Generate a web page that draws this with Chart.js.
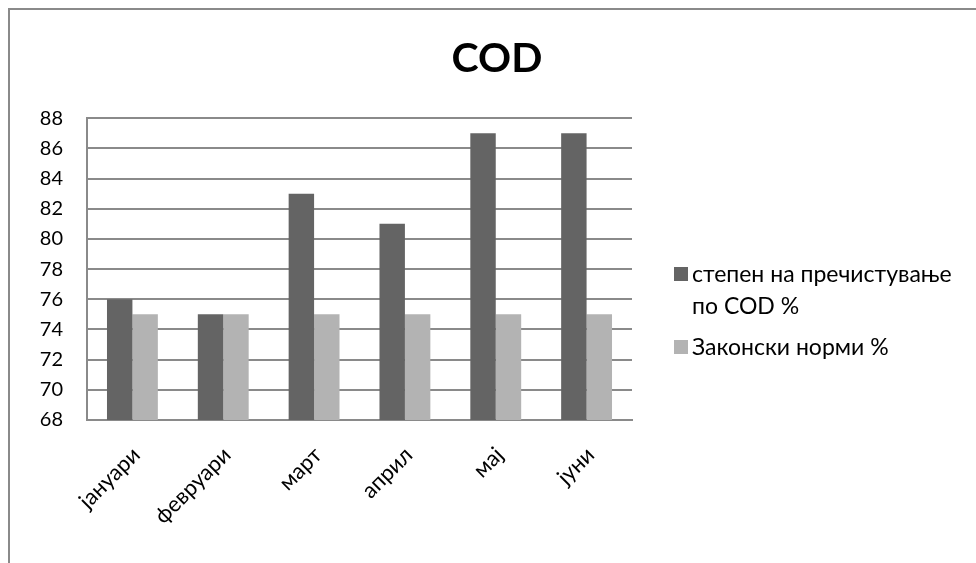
<!DOCTYPE html>
<html>
<head>
<meta charset="utf-8">
<script src="https://cdn.jsdelivr.net/npm/chart.js@4.4.0/dist/chart.umd.min.js"></script>
<style>
  body { margin: 0; background: #fff; }
  #wrap { position: relative; width: 976px; height: 563px; overflow: hidden; }
  #frame { position: absolute; left: 8px; top: 8px; width: 1000px; height: 600px;
           border-left: 2px solid #8a8a8a; border-top: 2px solid #8a8a8a; }
  #myChart { position: absolute; left: 0; top: 0; }
  #legend { position: absolute; left: 674px; top: 257px; font-family: Lato, sans-serif;
            font-size: 23px; color: #000; line-height: 32px; }
  .item { display: flex; align-items: flex-start; margin-bottom: 9px; }
  .box { width: 14px; height: 14px; margin: 10px 4px 0 0; flex: none; }
</style>
</head>
<body>
<div id="wrap">
  <div id="frame"></div>
  <canvas id="myChart" width="976" height="563"></canvas>
  <div id="legend"></div>
</div>
<script>
// chart data
const months = ["јануари", "февруари", "март", "април", "мај", "јуни"];
const purification = [76, 75, 83, 81, 87, 87];
const legalNorms = [75, 75, 75, 75, 75, 75];
const seriesNames = ["степен на пречистување\nпо COD %", "Законски норми %"];
const seriesColors = ["#646464", "#b3b3b3"];
const yTicks = [68, 70, 72, 74, 76, 78, 80, 82, 84, 86, 88];

const gridColor = "#8a8a8a";

const ctx = document.getElementById('myChart').getContext('2d');
const myChart = new Chart(ctx, {
    type: 'bar',
    data: {
        labels: months,
        datasets: [{
            label: seriesNames[0],
            data: purification,
            backgroundColor: seriesColors[0],
            categoryPercentage: 0.56,
            barPercentage: 1.0,
        }, {
            label: seriesNames[1],
            data: legalNorms,
            backgroundColor: seriesColors[1],
            categoryPercentage: 0.56,
            barPercentage: 1.0,
        }],
    },
    options: {
        responsive: false,
        animation: false,
        layout: { padding: { left: 26, right: 8, top: 0, bottom: 0 } },
        plugins: {
            legend: { display: false },
            tooltip: { enabled: false },
            title: {
                display: true,
                text: 'COD',
                color: '#000',
                font: { family: 'Lato', size: 41, weight: 'bold' },
                padding: { top: 34, bottom: 35 },
            },
        },
        scales: {
            x: {
                grid: { color: 'transparent', drawTicks: false },
                border: { color: gridColor, width: 2 },
                ticks: {
                    color: '#000',
                    font: { family: 'Lato', size: 22 },
                    maxRotation: 45,
                    minRotation: 45,
                    padding: 22,
                    labelOffset: 4,
                },
                afterFit: (scale) => { scale.height = 143; },
            },
            y: {
                min: yTicks[0],
                max: yTicks[yTicks.length - 1],
                grid: { color: gridColor, lineWidth: 2, drawTicks: false },
                border: { color: gridColor, width: 2 },
                ticks: {
                    stepSize: 2,
                    color: '#000',
                    font: { family: 'Lato', size: 20 },
                    padding: 24,
                },
                afterFit: (scale) => { scale.width = 61; },
            },
            // empty axis on the right keeps room for the legend
            yRight: {
                position: 'right',
                display: true,
                grid: { display: false, drawTicks: false },
                border: { display: false },
                ticks: { display: false },
                afterFit: (scale) => { scale.width = 336; },
            },
        },
    },
});

// legend built from the datasets
const legendEl = document.getElementById('legend');
myChart.data.datasets.forEach(ds => {
    const item = document.createElement('div');
    item.className = 'item';
    const lines = ds.label.split('\n').join('<br>');
    item.innerHTML = `<span class="box" style="background:${ds.backgroundColor}"></span><span>${lines}</span>`;
    legendEl.appendChild(item);
});
</script>
</body>
</html>
